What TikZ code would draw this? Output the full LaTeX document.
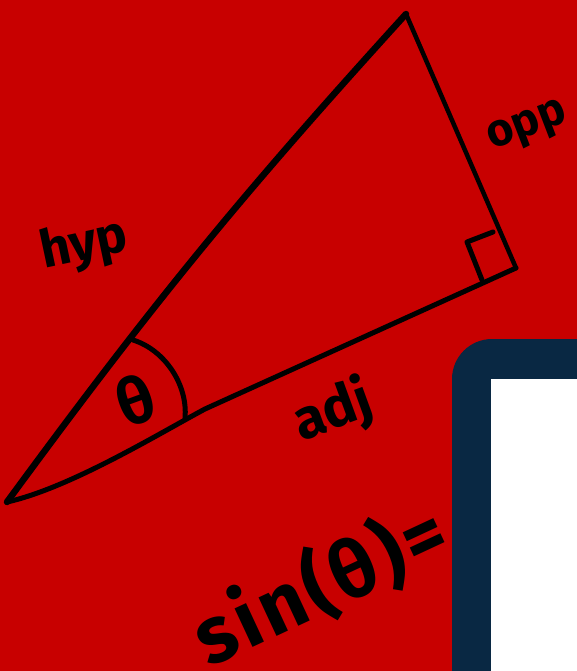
\documentclass[tikz,border=0pt]{standalone}
\usepackage{fontspec}
\setmainfont{Fira Sans}
\definecolor{bgred}{RGB}{200,0,0}
\definecolor{navy}{RGB}{9,40,67}
\begin{document}
\begin{tikzpicture}[x=1pt,y=-1pt,
  side/.style={line width=5pt, line cap=round, line join=round},
  lbl/.style={inner sep=0pt, text=black}]
\fill[bgred] (0,0) rectangle (577,671);
\useasboundingbox (0,0) rectangle (577,671);
\begin{scope}
\clip (0,0) rectangle (577,671);
\fill[navy, rounded corners=40pt] (452,339) rectangle (660,760);
\fill[white] (491,379) rectangle (660,760);
\end{scope}
\coordinate (A) at (7,502);
\coordinate (B) at (406,14);
\coordinate (C) at (516,268);
\coordinate (K) at (205,409);
% hypotenuse
\draw[side, line width=6.5pt] (A) to[bend left=3] (B);
% adjacent
\draw[side] (C) -- (K) .. controls (160,433) and (70,488) .. (A);
% opposite
\draw[side, line width=4.5pt] (B) -- (C);
% right angle mark
\coordinate (R1) at (482,280);
\coordinate (R2) at (467,242);
\coordinate (R3) at (493,232);
\draw[side] (R1) -- (R2) -- (R3);
% angle arc
\coordinate (T1) at (133,340);
\coordinate (T2) at (185,418);
\draw[side] (T1) .. controls (165,350) and (188,385) .. (T2);
% labels
\node[lbl, rotate=20, font=\bfseries\fontsize{64}{70}\selectfont] (th) at (135,400) {θ};
\node[lbl, rotate=12, font=\bfseries\fontsize{52}{60}\selectfont] (hyp) at (84,246) {hyp};
\node[lbl, rotate=21, font=\bfseries\fontsize{46}{50}\selectfont] (opp) at (528,128) {opp};
\node[lbl, rotate=20, font=\bfseries\fontsize{56}{60}\selectfont] (adj) at (333,412) {adj};
\node[lbl, rotate=25, font=\bfseries\fontsize{80}{90}\selectfont\addfontfeature{LetterSpace=5}] (sin) at (320,585) {sin(θ)=};
\end{tikzpicture}
\end{document}
